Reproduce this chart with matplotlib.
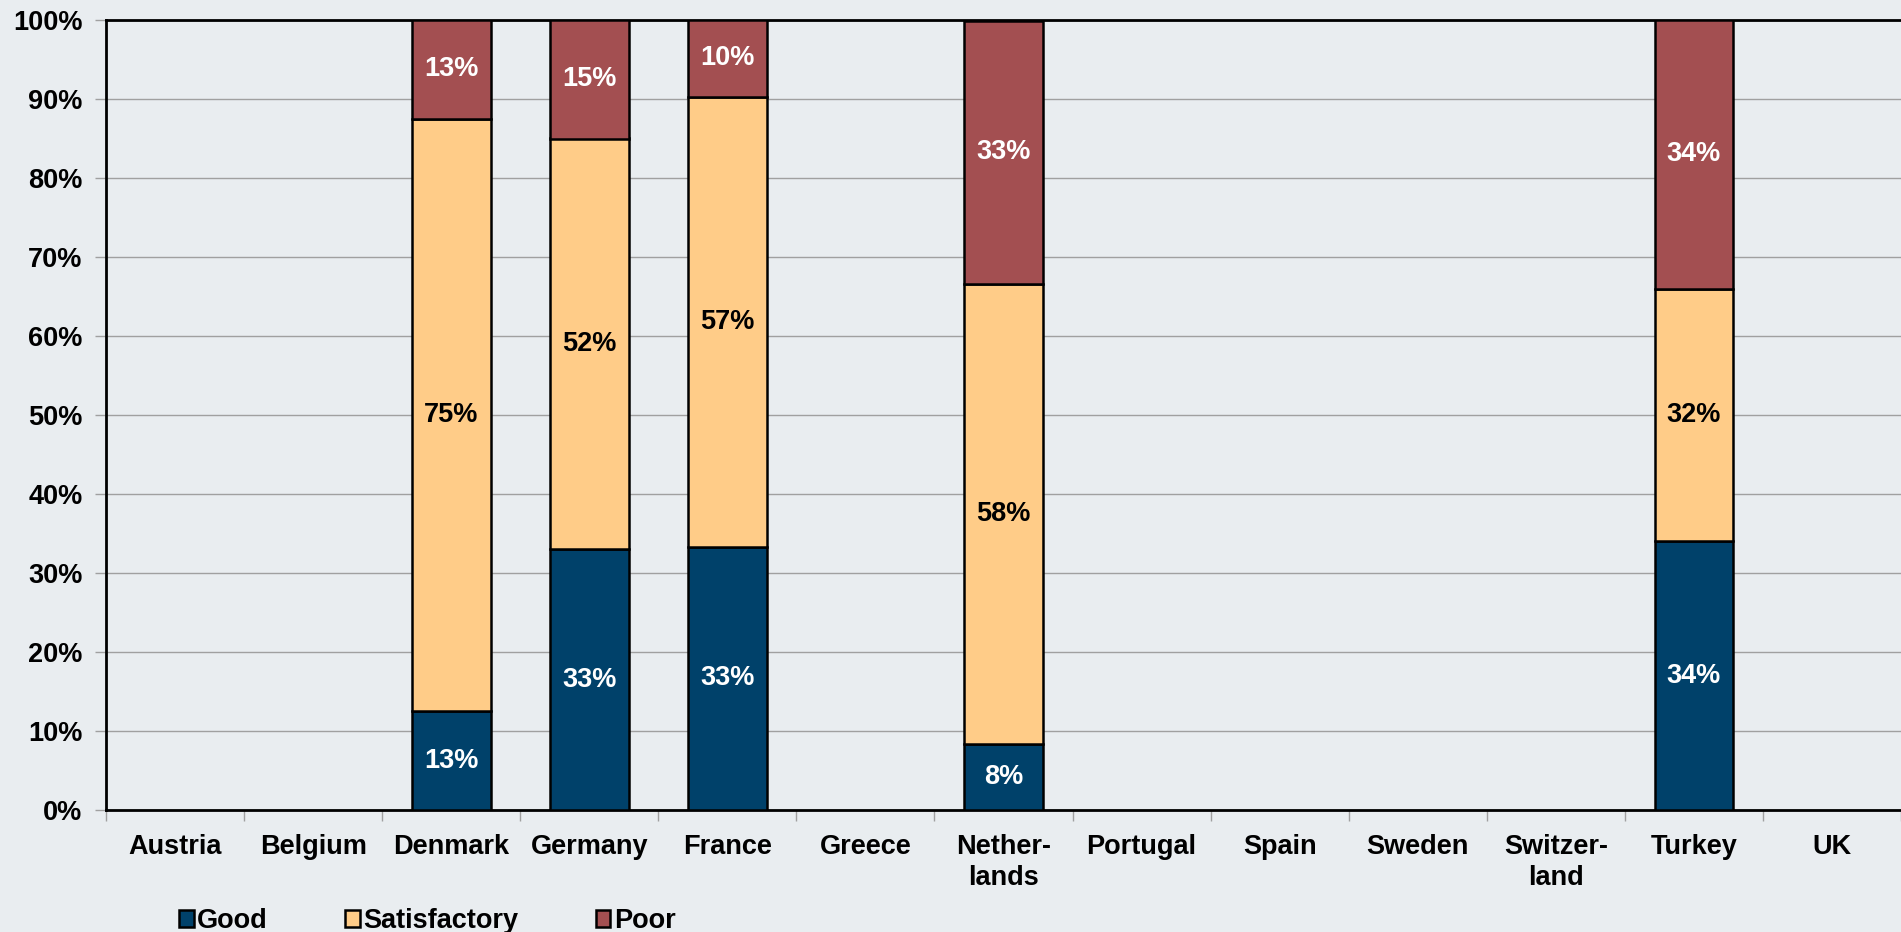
import math

import matplotlib
matplotlib.use("Agg")
import matplotlib.pyplot as plt
import numpy as np

plt.rcParams['font.family'] = ['Liberation Sans', 'DejaVu Sans']
plt.rcParams['font.weight'] = 'bold'

## Data ##

countries = ["Austria", "Belgium", "Denmark", "Germany", "France", "Greece",
             "Nether-\nlands", "Portugal", "Spain", "Sweden", "Switzer-\nland",
             "Turkey", "UK"]
good = [0, 0, 12.5, 33.0, 33.3, 0, 8.3, 0, 0, 0, 0, 34.0, 0]
satisfactory = [0, 0, 75.0, 52.0, 57.0, 0, 58.3, 0, 0, 0, 0, 32.0, 0]
poor = [0, 0, 12.5, 15.0, 9.7, 0, 33.3, 0, 0, 0, 0, 34.0, 0]
series_names = ["Good", "Satisfactory", "Poor"]

## Style ##

BG = "#E9EDF0"
COLORS = ["#00416A", "#FFCC88", "#A34F51"]
TEXT_COLORS = ["white", "black", "white"]
FS = 19.5

fig = plt.figure(figsize=(19.01, 9.32), dpi=100, facecolor=BG)
ax = fig.add_axes([106 / 1901, 1 - 810 / 932, 1 - 106 / 1901, (810 - 20) / 932])
ax.set_facecolor(BG)

x = np.arange(len(countries))
bottom = np.zeros(len(countries))
for name, vals, col, tcol in zip(series_names, [good, satisfactory, poor], COLORS, TEXT_COLORS):
    vals = np.array(vals)
    mask = vals > 0
    ax.bar(x[mask], vals[mask], width=0.57, bottom=bottom[mask], color=col,
           edgecolor="black", linewidth=1.8, label=name, zorder=3)
    for xi, b, v in zip(x[mask], bottom[mask], vals[mask]):
        ax.text(xi, b + v / 2, "%d%%" % math.floor(v + 0.5), ha="center", va="center",
                color=tcol, fontsize=FS, fontweight="bold", zorder=4)
    bottom += vals

ax.set_xlim(-0.5, len(countries) - 0.5)
ax.set_ylim(0, 100)
ax.set_yticks(np.arange(0, 101, 10))
ax.set_yticklabels(["%d%%" % v for v in range(0, 101, 10)], fontsize=FS, fontweight="bold")
ax.yaxis.grid(True, color="#A0A0A0", linewidth=1.0, zorder=0)
ax.set_axisbelow(True)

ax.set_xticks(x)
ax.set_xticklabels(countries, fontsize=FS, fontweight="bold", linespacing=1.25)
ax.set_xticks(np.arange(-0.5, len(countries), 1), minor=True)
ax.tick_params(axis="x", which="major", length=0, pad=17)
ax.tick_params(axis="x", which="minor", length=8, color="#A0A0A0", width=1)
ax.tick_params(axis="y", length=8, color="#A0A0A0", width=1, pad=9)

for side in ["left", "bottom", "top"]:
    ax.spines[side].set_color("black")
    ax.spines[side].set_linewidth(2)
ax.spines["right"].set_visible(False)

leg = fig.legend(loc="center left", bbox_to_anchor=(179 / 1901, 11 / 932), ncol=3,
                 frameon=False, fontsize=FS, handlelength=0.55, handleheight=0.55,
                 handletextpad=0.12, columnspacing=2.85, borderpad=0, borderaxespad=0)
for t in leg.get_texts():
    t.set_fontweight("bold")

fig.savefig("out.png", dpi=100, facecolor=BG)
